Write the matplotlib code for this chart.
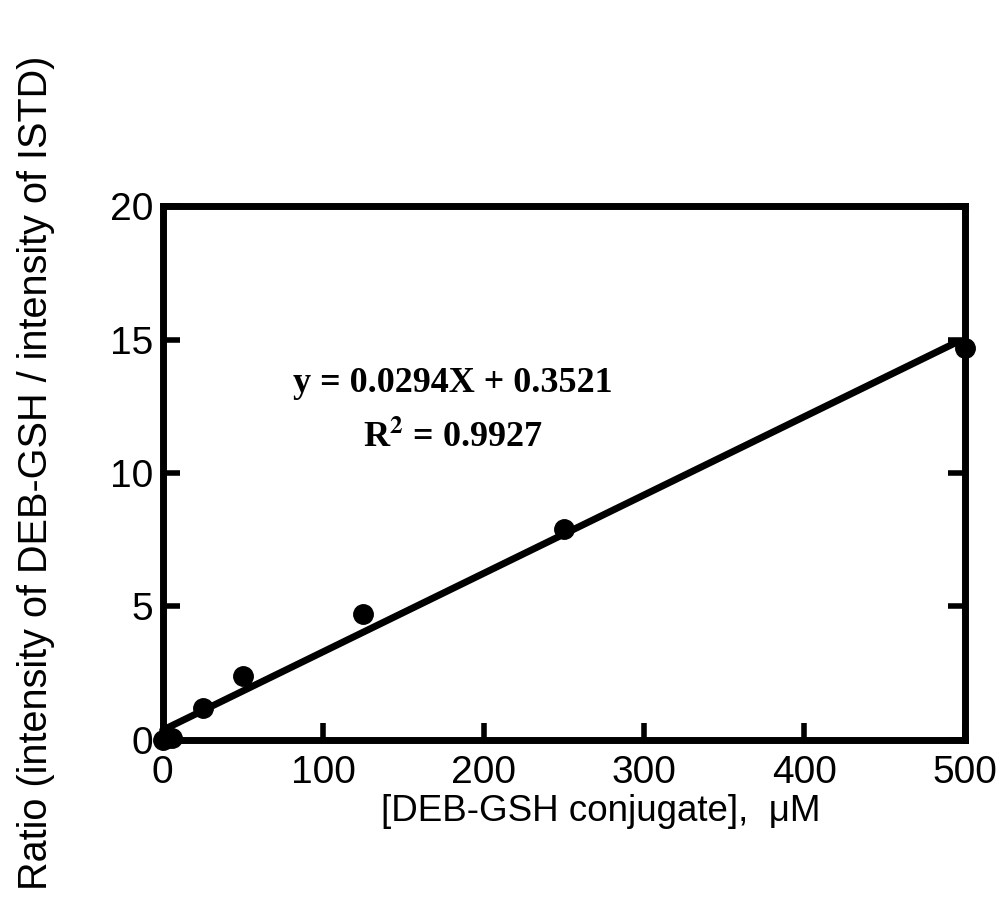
import numpy as np
import matplotlib.pyplot as plt

# calibration data
conc = [0, 3, 6, 25, 50, 125, 250, 500]
ratio = [0.0, 0.05, 0.05, 1.2, 2.4, 4.7, 7.9, 14.7]

slope = 0.0294
intercept = 0.3521
r2 = 0.9927

xticks = [0, 100, 200, 300, 400, 500]
yticks = [0, 5, 10, 15, 20]

plt.rcParams['font.family'] = ['Liberation Sans', 'DejaVu Sans']
plt.rcParams['mathtext.fontset'] = 'stix'

fig = plt.figure(figsize=(10.04, 9.21), dpi=100)
ax = fig.add_axes([0.162, 0.197, 0.799, 0.579])

xfit = np.array([0, 495])
ax.plot(xfit, slope * xfit + intercept, color='black', lw=5, solid_capstyle='round', clip_on=False)
ax.plot(conc, ratio, 'o', color='black', ms=14, clip_on=False, zorder=5)

ax.set_xlim(0, 500)
ax.set_ylim(0, 20)
ax.set_xticks(xticks)
ax.set_yticks(yticks)
ax.tick_params(direction='in', length=12, width=4, labelsize=28, pad=7,
               right=True, top=False)
ax.tick_params(axis='x', pad=11)
for s in ax.spines.values():
    s.set_linewidth(5)

ax.set_xlabel('[DEB-GSH conjugate],  \u03bcM', fontsize=26.5, va='top')
ax.xaxis.set_label_coords(0.546, -0.102)
ax.set_ylabel('Ratio (intensity of DEB-GSH / intensity of ISTD)', fontsize=28.5, labelpad=39)

ax.text(181, 13.35, 'y = 0.0294X + 0.3521', ha='center', va='center',
        fontsize=26, fontweight='bold', family='Liberation Serif')
ax.text(181, 11.3, r'R$^{\mathbf{2}}$ = 0.9927', ha='center', va='center',
        fontsize=26, fontweight='bold', family='Liberation Serif')

fig.savefig('out.png', dpi=100)
